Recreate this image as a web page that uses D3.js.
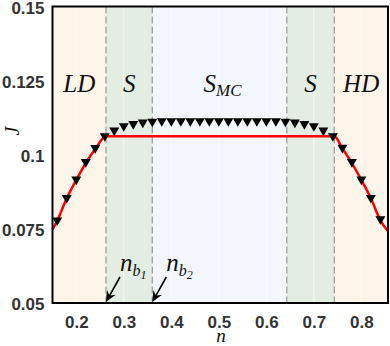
<!DOCTYPE html>
<html>
<head>
<meta charset="utf-8">
<script src="https://cdn.jsdelivr.net/npm/d3@7"></script>
<style>
  body { margin: 0; background: #fff; }
  .tick text { font-family: "Liberation Sans", Arial, sans-serif; font-weight: bold; font-size: 17px; fill: #333; }
  .math { font-family: "Liberation Serif", "Times New Roman", serif; font-style: italic; fill: #111; }
</style>
</head>
<body>
<svg id="chart" width="390" height="346"></svg>
<script>
// phase boundaries n_b1, n_b2, 1-n_b2, 1-n_b1
var boundaries = [0.2625, 0.36, 0.643, 0.743];
var phaseLabels = ["LD", "S", "SMC", "S", "HD"];
var phaseColors = ["#fdf5ea", "#e3ede3", "#f3f6fc", "#e3ede3", "#fdf5ea"];

// theory curve (red)
var theoryN = [0.15, 0.16, 0.18, 0.20, 0.22, 0.24, 0.2625, 0.743, 0.76, 0.78, 0.80, 0.82, 0.84, 0.856];
var theoryJ = [0.0748, 0.0778, 0.0853, 0.0915, 0.0972, 0.1019, 0.1062, 0.1062, 0.1021, 0.0972, 0.0915, 0.0853, 0.0779, 0.0742];

// simulation points (triangles)
var simN = [0.16, 0.18, 0.20, 0.22, 0.24, 0.26, 0.28, 0.30, 0.32, 0.34, 0.36, 0.38,
            0.40, 0.42, 0.44, 0.46, 0.48, 0.50, 0.52, 0.54, 0.56, 0.58, 0.60,
            0.62, 0.64, 0.66, 0.68, 0.70, 0.72, 0.74, 0.76, 0.78, 0.80, 0.82, 0.84];
var simJ = [0.0774, 0.0850, 0.0912, 0.0971, 0.1018, 0.1058, 0.1077, 0.1092, 0.1099, 0.1104, 0.1107, 0.1109,
            0.1109, 0.1109, 0.1109, 0.1109, 0.1109, 0.1109, 0.1109, 0.1109, 0.1109, 0.1109, 0.1109,
            0.1109, 0.1107, 0.1104, 0.1099, 0.1092, 0.1077, 0.1058, 0.1019, 0.0971, 0.0912, 0.0850, 0.0778];

var xTicks = [0.2, 0.3, 0.4, 0.5, 0.6, 0.7, 0.8];
var yTicks = [0.05, 0.075, 0.1, 0.125, 0.15];
var xDomain = [0.15, 0.856];
var yDomain = [0.05, 0.15];

var svg = d3.select("#chart");
var plotL = 52.5, plotR = 388, plotT = 6.5, plotB = 303;

var x = d3.scaleLinear().domain(xDomain).range([plotL, plotR]);
var y = d3.scaleLinear().domain(yDomain).range([plotB, plotT]);

/* BACKGROUND BANDS */
var edges = [xDomain[0]].concat(boundaries, [xDomain[1]]);
svg.append("g")
  .selectAll("rect")
  .data(phaseColors)
  .enter()
  .append("rect")
  .attr("x", function (d, i) { return x(edges[i]); })
  .attr("width", function (d, i) { return x(edges[i + 1]) - x(edges[i]); })
  .attr("y", plotT)
  .attr("height", plotB - plotT)
  .attr("fill", function (d) { return d; });

// faint grid at x ticks
svg.append("g")
  .selectAll("line")
  .data(xTicks)
  .enter()
  .append("line")
  .attr("x1", function (d) { return x(d); })
  .attr("x2", function (d) { return x(d); })
  .attr("y1", plotT)
  .attr("y2", plotB)
  .attr("stroke", "#fff")
  .attr("stroke-opacity", 0.6)
  .attr("stroke-width", 1);

/* DASHED BOUNDARIES */
svg.append("g")
  .selectAll("line")
  .data(boundaries)
  .enter()
  .append("line")
  .attr("x1", function (d) { return x(d); })
  .attr("x2", function (d) { return x(d); })
  .attr("y1", plotT)
  .attr("y2", plotB)
  .attr("stroke", "#999")
  .attr("stroke-width", 1.2)
  .attr("stroke-dasharray", "7,3");

/* PHASE LABELS */
var labels = svg.append("g").attr("class", "math").attr("font-size", 25);
labels.selectAll("text")
  .data(phaseLabels)
  .enter()
  .append("text")
  .attr("x", function (d, i) { return (x(edges[i]) + x(edges[i + 1])) / 2 + (i == 2 ? 3 : 0); })
  .attr("y", 92)
  .attr("text-anchor", "middle")
  .each(function (d) {
    var t = d3.select(this);
    if (d == "SMC") {
      t.append("tspan").text("S");
      t.append("tspan").attr("font-size", 17).attr("dy", 4).text("MC");
    } else {
      t.text(d);
    }
  });

/* THEORY LINE */
var line = d3.line()
  .x(function (d) { return x(d[0]); })
  .y(function (d) { return y(d[1]); })
  .curve(d3.curveMonotoneX);

svg.append("path")
  .datum(theoryN.map(function (n, i) { return [n, theoryJ[i]]; }))
  .attr("d", line)
  .attr("fill", "none")
  .attr("stroke", "#ff0000")
  .attr("stroke-width", 2.5);

/* SIMULATION MARKERS */
svg.append("g")
  .selectAll("path")
  .data(simN)
  .enter()
  .append("path")
  .attr("d", "M-5,-4.3 L5,-4.3 L0,4.3 Z")
  .attr("transform", function (d, i) { return "translate(" + x(d) + "," + y(simJ[i]) + ")"; })
  .attr("fill", "#000");

/* AXES */
svg.append("g")
  .attr("transform", "translate(0," + plotB + ")")
  .call(d3.axisBottom(x).tickValues(xTicks).tickSize(0).tickPadding(13).tickFormat(d3.format(".1f")))
  .call(function (g) { g.select(".domain").remove(); });

svg.append("g")
  .attr("transform", "translate(" + plotL + ",1.5)")
  .call(d3.axisLeft(y).tickValues(yTicks).tickSize(0).tickPadding(8).tickFormat(function (d) { return String(+d.toFixed(3)); }))
  .call(function (g) { g.select(".domain").remove(); });

svg.append("rect")
  .attr("x", plotL)
  .attr("y", plotT)
  .attr("width", plotR - plotL)
  .attr("height", plotB - plotT)
  .attr("fill", "none")
  .attr("stroke", "#000")
  .attr("stroke-width", 2);

/* ANNOTATIONS (arrows to n_b1, n_b2) */
var notes = [boundaries[0], boundaries[1]];
notes.forEach(function (nb, i) {
  var tx = x(nb), ty = plotB - 1;
  var sx = tx + 14, sy = ty - 25;
  var len = Math.sqrt((tx - sx) * (tx - sx) + (ty - sy) * (ty - sy));
  var ang = Math.atan2(ty - sy, tx - sx) * 180 / Math.PI;
  // whole arrow (shaft + head) as one filled shape, tip at origin
  svg.append("path")
    .attr("d", "M0,0 L-11,-5 L-8,-0.8 L" + (-len) + ",-0.8 L" + (-len) + ",0.8 L-8,0.8 L-11,5 Z")
    .attr("transform", "translate(" + tx + "," + ty + ") rotate(" + ang + ")")
    .attr("fill", "#000");
  var t = svg.append("text")
    .attr("class", "math")
    .attr("font-size", 25)
    .attr("x", tx + 14)
    .attr("y", ty - 31);
  t.append("tspan").text("n");
  t.append("tspan").attr("font-size", 16).attr("dy", 5).text("b");
  t.append("tspan").attr("font-size", 12).attr("dy", 3).text(i + 1);
});

svg.append("text")
  .attr("class", "math")
  .attr("font-size", 19)
  .attr("x", 221)
  .attr("y", 342)
  .attr("text-anchor", "middle")
  .text("n");

svg.append("text")
  .attr("class", "math")
  .attr("font-size", 20)
  .attr("transform", "translate(19,131) rotate(-90)")
  .attr("text-anchor", "middle")
  .text("J");
</script>
</body>
</html>
